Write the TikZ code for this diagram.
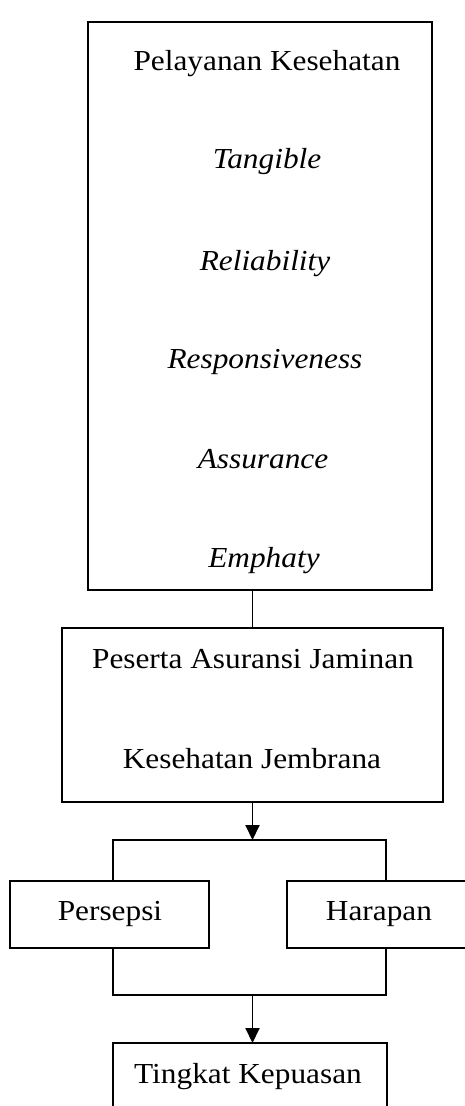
\documentclass[tikz,border=0pt]{standalone}
\usepackage{fontspec}
\setmainfont[FakeStretch=1.08]{Liberation Serif}
\usetikzlibrary{arrows.meta}
\begin{document}
\begin{tikzpicture}[x=1pt,y=-1pt,
  box/.style={draw,line width=1.9pt,rectangle,inner sep=0pt,outer sep=0pt},
  txt/.style={anchor=base,inner sep=0pt,font=\fontsize{29}{32}\selectfont},
  itx/.style={txt,font=\fontsize{29}{32}\selectfont\itshape},
  link/.style={line width=1.9pt},
  arr/.style={line width=1.9pt,-{Triangle[length=15pt,width=14pt]}}]
\useasboundingbox (0,0) rectangle (465,1106);
\clip (0,0) rectangle (465,1106);
% top box
\node[box,minimum width=344pt,minimum height=568pt] (top) at (260,306) {};
\node[txt] (t0) at (267,70) {Pelayanan Kesehatan};
\node[itx] (t1) at (267,168) {Tangible};
\node[itx] (t2) at (265,270) {Reliability};
\node[itx] (t3) at (265,368) {Responsiveness};
\node[itx] (t4) at (263,468) {Assurance};
\node[itx] (t5) at (264,567) {Emphaty};
% peserta box
\node[box,minimum width=381pt,minimum height=174pt] (pes) at (252.5,715) {};
\node[txt] (p1) at (253,668) {Peserta Asuransi Jaminan};
\node[txt] (p2) at (252,768) {Kesehatan Jembrana};
\draw[link] (pes.north) -- (pes.north |- top.south);
% persepsi / harapan
\node[box,minimum width=199pt,minimum height=67pt] (per) at (109.5,914.5) {};
\node[txt] (pt) at (110,920) {Persepsi};
\node[box,minimum width=213pt,minimum height=67pt] (har) at (393.5,914.5) {};
\node[txt] (ht) at (379,920) {Harapan};
\coordinate (ul) at (113,840);
\coordinate (ur) at (386,840);
\coordinate (ll) at (113,995);
\coordinate (lr) at (386,995);
\draw[arr] (pes.south) -- (pes.south |- ul);
\draw[link] (ul |- per.north) -- (ul) -- (ur) -- (ur |- har.north);
\draw[link] (ll |- per.south) -- (ll) -- (lr) -- (lr |- har.south);
% tingkat
\node[box,minimum width=274pt,minimum height=107pt] (tk) at (250,1096.5) {};
\node[txt] (tt) at (248,1083) {Tingkat Kepuasan};
\draw[arr] (pes.south |- ll) -- (pes.south |- tk.north);
\end{tikzpicture}
\end{document}
